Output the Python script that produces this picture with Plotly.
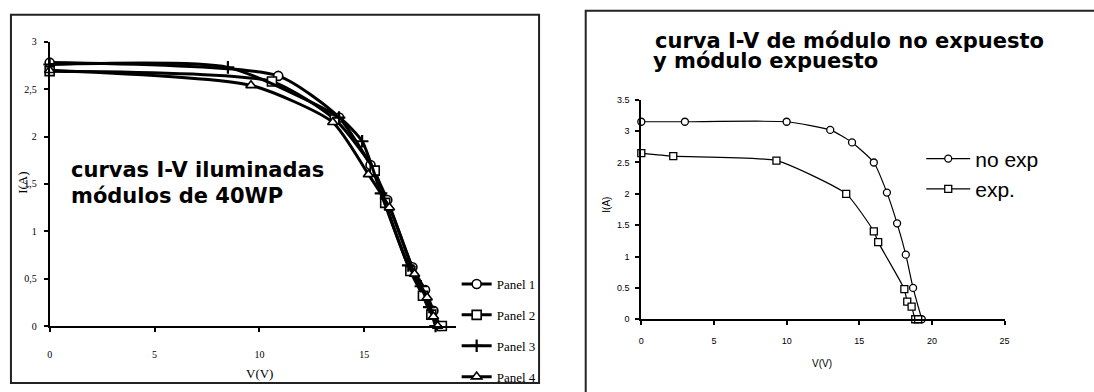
import plotly.graph_objects as go

W, H = 1094, 392

# ---------------- Left panel data (V in volts, I in amps) ----------------
panel_names = ["Panel 1", "Panel 2", "Panel 3", "Panel 4"]
p1_v = [0, 10.9, 13.8, 15.3, 16.1, 17.3, 17.9, 18.3, 18.6]
p1_i = [2.78, 2.64, 2.2, 1.7, 1.33, 0.62, 0.38, 0.16, 0]
p2_v = [0, 10.6, 13.6, 15.5, 16.0, 17.2, 17.8, 18.2, 18.7]
p2_i = [2.69, 2.58, 2.18, 1.64, 1.3, 0.58, 0.32, 0.12, 0]
p3_v = [0, 8.5, 13.8, 14.9, 15.8, 17.1, 17.7, 18.1, 18.4]
p3_i = [2.76, 2.73, 2.2, 1.95, 1.4, 0.64, 0.42, 0.2, 0]
p4_v = [0, 9.6, 13.5, 15.2, 16.2, 17.4, 18.0, 18.3, 18.5]
p4_i = [2.7, 2.54, 2.15, 1.6, 1.25, 0.55, 0.3, 0.1, 0]

left_yticks = [0, 0.5, 1, 1.5, 2, 2.5, 3]
left_yticktext = ["0", "0,5", "1", "1,5", "2", "2,5", "3"]
left_xticks = [0, 5, 10, 15]

# ---------------- Right panel data ----------------
right_names = ["no exp", "exp."]
noexp_v = [0, 3, 10, 13, 14.5, 16.0, 16.9, 17.6, 18.2, 18.7, 19.3]
noexp_i = [3.15, 3.15, 3.15, 3.02, 2.82, 2.5, 2.02, 1.53, 1.03, 0.5, 0.0]
exp_v = [0, 2.2, 9.3, 14.1, 16.0, 16.3, 18.1, 18.3, 18.6, 18.85, 19.05]
exp_i = [2.65, 2.6, 2.53, 2.0, 1.4, 1.23, 0.48, 0.28, 0.2, 0.0, 0.0]

right_yticks = [0, 0.5, 1, 1.5, 2, 2.5, 3, 3.5]
right_yticktext = ["0", "0.5", "1", "1.5", "2", "2.5", "3", "3.5"]
right_xticks = [0, 5, 10, 15, 20, 25]


def fx(px):
    return px / W


def fy(py):
    return 1 - py / H


fig = go.Figure()

left_series = [(p1_v, p1_i, "circle"), (p2_v, p2_i, "square"),
               (p3_v, p3_i, "cross-thin"), (p4_v, p4_i, "triangle-up")]
for name, (vv, ii, sym) in zip(panel_names, left_series):
    fig.add_trace(go.Scatter(
        x=vv, y=ii, name=name, mode="lines+markers",
        line=dict(color="black", width=3, shape="spline", smoothing=0.6),
        marker=dict(symbol=sym, size=9, color="white",
                    line=dict(color="black", width=1.6 if sym != "cross-thin" else 2.2)),
        xaxis="x", yaxis="y", legend="legend", legendgroup=name,
        cliponaxis=False,
    ))

for name, vv, ii, sym in [(right_names[0], noexp_v, noexp_i, "circle"),
                          (right_names[1], exp_v, exp_i, "square")]:
    fig.add_trace(go.Scatter(
        x=vv, y=ii, name=name, mode="lines+markers",
        line=dict(color="black", width=1.2, shape="spline", smoothing=0.5),
        marker=dict(symbol=sym, size=7, color="white", line=dict(color="black", width=1.3)),
        xaxis="x2", yaxis="y2", legend="legend2",
        cliponaxis=False,
    ))

tickfont_l = dict(family="Liberation Serif", size=10, color="black")
tickfont_r = dict(family="Liberation Sans", size=9, color="black")

fig.update_layout(
    width=W, height=H,
    margin=dict(l=0, r=0, t=0, b=0),
    paper_bgcolor="white", plot_bgcolor="white",
    xaxis=dict(domain=[fx(47), fx(456)], range=[0, 19.36], tickvals=left_xticks,
               ticks="outside", ticklen=4, tickwidth=1.5, tickcolor="black",
               showline=True, linewidth=2, linecolor="black", showgrid=False,
               zeroline=False, tickfont=tickfont_l, ticklabelstandoff=14,
               anchor="y", fixedrange=True),
    yaxis=dict(domain=[fy(331), fy(37)], range=[0, 3], tickvals=left_yticks,
               ticktext=left_yticktext, ticks="outside", ticklen=4, tickwidth=1.5,
               tickcolor="black", showline=True, linewidth=2, linecolor="black",
               showgrid=False, zeroline=False, tickfont=tickfont_l,
               ticklabelstandoff=5, anchor="x", fixedrange=True),
    xaxis2=dict(domain=[fx(643), fx(1009)], range=[0, 25], tickvals=right_xticks,
                ticks="outside", ticklen=4, tickwidth=1.5, tickcolor="black",
                showline=True, linewidth=2, linecolor="black", showgrid=False,
                zeroline=False, tickfont=tickfont_r, ticklabelstandoff=8,
                anchor="y2", fixedrange=True),
    yaxis2=dict(domain=[fy(324), fy(97)], range=[0, 3.5], tickvals=right_yticks,
                ticktext=right_yticktext, ticks="outside", ticklen=4, tickwidth=1.5,
                tickcolor="black", showline=True, linewidth=2, linecolor="black",
                showgrid=False, zeroline=False, tickfont=tickfont_r,
                ticklabelstandoff=4, anchor="x2", fixedrange=True),
    legend=dict(x=fx(457), y=fy(272), xanchor="left", yanchor="top",
                font=dict(family="Liberation Serif", size=13, color="black"),
                bgcolor="rgba(0,0,0,0)", traceorder="grouped", tracegroupgap=11,
                itemwidth=30),
    legend2=dict(x=fx(925), y=fy(137), xanchor="left", yanchor="top",
                 font=dict(family="Liberation Sans", size=21, color="black"),
                 bgcolor="rgba(0,0,0,0)", itemwidth=44),
    showlegend=True,
)

# Panel frames
fig.add_shape(type="rect", xref="paper", yref="paper",
              x0=fx(8), x1=fx(540), y0=fy(390), y1=fy(9),
              line=dict(color="#222", width=2))
fig.add_shape(type="rect", xref="paper", yref="paper",
              x0=fx(587), x1=fx(1110), y0=fy(420), y1=fy(5),
              line=dict(color="#222", width=2))

bold = dict(family="DejaVu Sans", size=21, color="black")
ann = [
    dict(text="<b>curvas I-V iluminadas</b>", x=fx(66), y=fy(170)),
    dict(text="<b>módulos de 40WP</b>", x=fx(66), y=fy(196)),
    dict(text="<b>curva I-V de módulo no expuesto</b>", x=fx(655), y=fy(36)),
    dict(text="<b>y módulo expuesto</b>", x=fx(653), y=fy(57)),
]
for a in ann:
    fig.add_annotation(xref="paper", yref="paper", xanchor="left", yanchor="middle",
                       showarrow=False, font=bold, **a)

fig.add_annotation(text="I(A)", xref="paper", yref="paper", x=fx(20), y=fy(183),
                   xanchor="center", yanchor="middle", textangle=-90, showarrow=False,
                   font=dict(family="Liberation Serif", size=13, color="black"))
fig.add_annotation(text="V(V)", xref="paper", yref="paper", x=fx(258), y=fy(380),
                   xanchor="center", yanchor="middle", showarrow=False,
                   font=dict(family="Liberation Serif", size=13, color="black"))
fig.add_annotation(text="I(A)", xref="paper", yref="paper", x=fx(608), y=fy(206),
                   xanchor="center", yanchor="middle", textangle=-90, showarrow=False,
                   font=dict(family="Liberation Sans", size=10, color="black"))
fig.add_annotation(text="V(V)", xref="paper", yref="paper", x=fx(825), y=fy(370),
                   xanchor="center", yanchor="middle", showarrow=False,
                   font=dict(family="Liberation Sans", size=10, color="black"))

fig.write_html(
    "out.html",
    config={"displayModeBar": False},
    post_script="document.body.style.margin='0';document.body.style.overflow='hidden';",
)
